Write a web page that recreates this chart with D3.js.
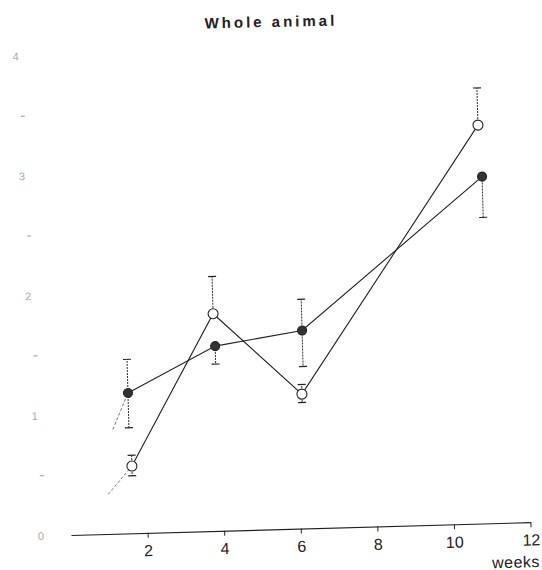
<!DOCTYPE html>
<html>
<head>
<meta charset="utf-8">
<script src="https://cdn.jsdelivr.net/npm/d3@7"></script>
<style>
  body { margin: 0; background: #fff; }
  svg { display: block; font-family: "Liberation Sans", Arial, sans-serif; }
</style>
</head>
<body>
<div id="chart"></div>
<script>
// values (x in weeks, y in axis units 0-4)
var weeksOpen = [1.64, 3.87, 6.13, 10.92];
var valuesOpen = [0.56, 1.81, 1.12, 3.32];
var upperOpen = [0.65, 2.12, 1.20, 3.63];
var lowerOpen = [0.48, null, 1.05, null];

var weeksFilled = [1.59, 3.90, 6.18, 10.99];
var valuesFilled = [1.17, 1.54, 1.65, 2.89];
var upperFilled = [1.45, null, 1.91, null];
var lowerFilled = [0.88, 1.39, 1.35, 2.55];

// faint line segments coming in from the lower left
var leadOpen = [1.0, 0.33];
var leadFilled = [1.17, 0.87];

var xTicks = [2, 4, 6, 8, 10, 12];
var yTicks = [0, 1, 2, 3, 4];
var yMinor = [0.5, 1.5, 2.5, 3.5];

var W = 542, H = 570;
var ox = 71, oy = 535, tilt = -1.6;

var svg = d3.select('#chart').append('svg')
    .attr('width', W)
    .attr('height', H)

svg.append('text')
    .attr('transform', 'translate(271,27) rotate(-1.2)')
    .attr('text-anchor', 'middle')
    .style('font-size', '15px')
    .style('font-weight', 'bold')
    .style('letter-spacing', '3px')
    .style('fill', '#222')
    .text('Whole animal');

// the scan is slightly rotated, so the plot frame is too
var g = svg.append('g')
    .attr('transform', 'translate(' + ox + ',' + oy + ') rotate(' + tilt + ')');

var x = d3.scaleLinear().domain([0, 12]).range([0, 459.6]);
var y = d3.scaleLinear().domain([0, 4]).range([0, -480]);

var xAxis = d3.axisBottom(x)
    .tickValues(xTicks)
    .tickSize(5)
    .tickSizeOuter(0)
    .tickPadding(7);

var ax = g.append('g').call(xAxis);
ax.select('.domain').attr('stroke', '#222').attr('stroke-width', 1.1);
ax.selectAll('.tick line').attr('stroke', '#222');
ax.selectAll('.tick text')
    .style('font-size', '16px')
    .style('font-family', '"Liberation Sans", Arial, sans-serif')
    .attr('fill', '#222');

g.append('text')
    .attr('x', 468)
    .attr('y', 45)
    .attr('text-anchor', 'end')
    .style('font-size', '16px')
    .style('fill', '#222')
    .style('letter-spacing', '0.5px')
    .text('weeks');

// faded y labels of the scan
g.selectAll('.ylab').data(yTicks).enter().append('text')
    .attr('class', 'ylab')
    .attr('x', function(d) { return -30 - d * 3; })
    .attr('y', function(d) { return y(d) + 4; })
    .attr('text-anchor', 'middle')
    .style('font-size', '11px')
    .style('fill', '#aaa')
    .text(function(d) { return d; });

g.selectAll('.ymin').data(yMinor).enter().append('line')
    .attr('x1', function(d) { return -28 - d * 3; })
    .attr('x2', function(d) { return -24 - d * 3; })
    .attr('y1', function(d) { return y(d); })
    .attr('y2', function(d) { return y(d); })
    .attr('stroke', '#999');

function series(weeks, vals, upper, lower, lead, filled) {
  var pts = weeks.map(function(w, i) { return [w, vals[i]]; });

  g.append('path')
      .datum([lead, pts[0]])
      .attr('d', d3.line().x(function(d) { return x(d[0]); }).y(function(d) { return y(d[1]); }))
      .attr('fill', 'none')
      .attr('stroke', '#666')
      .attr('stroke-width', 0.9)
      .attr('stroke-dasharray', '3,2');

  g.append('path')
      .datum(pts)
      .attr('d', d3.line().x(function(d) { return x(d[0]); }).y(function(d) { return y(d[1]); }))
      .attr('fill', 'none')
      .attr('stroke', '#222')
      .attr('stroke-width', 1.1);

  pts.forEach(function(p, i) {
    var ends = [upper[i], lower[i]];
    ends.forEach(function(e) {
      if (e == null) return;
      g.append('line')
          .attr('x1', x(p[0])).attr('x2', x(p[0]))
          .attr('y1', y(p[1])).attr('y2', y(e))
          .attr('stroke', '#333')
          .attr('stroke-width', 1)
          .attr('stroke-dasharray', '2,1');
      g.append('line')
          .attr('x1', x(p[0]) - 4).attr('x2', x(p[0]) + 4)
          .attr('y1', y(e)).attr('y2', y(e))
          .attr('stroke', '#222')
          .attr('stroke-width', 1.2);
    });
  });

  g.selectAll(null).data(pts).enter().append('circle')
      .attr('cx', function(d) { return x(d[0]); })
      .attr('cy', function(d) { return y(d[1]); })
      .attr('r', filled ? 4.5 : 5)
      .attr('fill', filled ? '#333' : '#fff')
      .attr('stroke', '#222')
      .attr('stroke-width', 1.1);
}

series(weeksOpen, valuesOpen, upperOpen, lowerOpen, leadOpen, false);
series(weeksFilled, valuesFilled, upperFilled, lowerFilled, leadFilled, true);
</script>
</body>
</html>
